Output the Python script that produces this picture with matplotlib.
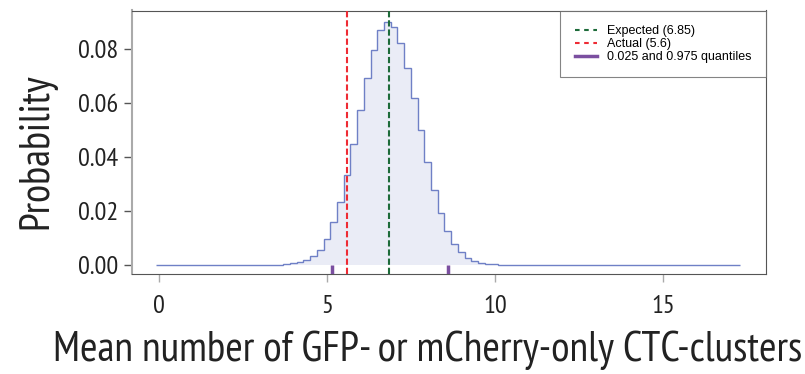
import numpy as np
import matplotlib
matplotlib.use("Agg")
import matplotlib.pyplot as plt
from matplotlib.lines import Line2D

# histogram of simulated means (bin centres, probability)
bin_centres = [3.4, 3.6, 3.8, 4.0, 4.2, 4.4, 4.6, 4.8, 5.0, 5.2, 5.4, 5.6, 5.8,
               6.0, 6.2, 6.4, 6.6, 6.8, 7.0, 7.2, 7.4, 7.6, 7.8, 8.0, 8.2,
               8.4, 8.6, 8.8, 9.0, 9.2, 9.4, 9.6, 9.8, 10.0, 10.2, 10.4]
probs = [0.0001, 0.0002, 0.0003, 0.0006, 0.0012, 0.0020, 0.0032, 0.0057,
         0.0098, 0.0158, 0.0234, 0.0333, 0.0449, 0.0574, 0.0692, 0.0795,
         0.0869, 0.0899, 0.0883, 0.0824, 0.0731, 0.0619, 0.0499, 0.0380,
         0.0278, 0.0194, 0.0128, 0.0078, 0.0048, 0.0027, 0.0015, 0.0007,
         0.0005, 0.0003, 0.0002, 0.0002]
bin_width = 0.2
range_min, range_max = 0.0, 17.2   # first / last simulated value

expected = 6.85
actual = 5.6
quantiles = [5.15, 8.6]

# full grid of bins (zeros where nothing was drawn)
n_bins = int(round((range_max - range_min) / bin_width)) + 1
edges = range_min - bin_width / 2 + bin_width * np.arange(n_bins + 1)
values = np.zeros(n_bins)
for c, p in zip(bin_centres, probs):
    values[int(round((c - range_min) / bin_width))] = p

cond = ["PT Sans Narrow", "Fira Sans Condensed", "Roboto Condensed", "DejaVu Sans"]
green, red, purple = "#1d6b3a", "#ee2b34", "#7b4fa0"

fig = plt.figure(figsize=(8.05, 3.74), dpi=100)
ax = fig.add_axes([132 / 805, 1 - 274 / 374, (766 - 132) / 805, (274 - 10.5) / 374])

ax.stairs(values, edges, fill=True, color="#eaecf6", zorder=1)
ax.stairs(values, edges, color="#6f80c6", lw=1.0, zorder=2)

ax.axvline(expected, color=green, ls=(0, (3, 1.4)), lw=1.5, zorder=3)
ax.axvline(actual, color=red, ls=(0, (3, 1.4)), lw=1.5, zorder=3)
for q in quantiles:
    ax.plot([q, q], [0, -0.0034], color=purple, lw=2.5, solid_capstyle="butt", zorder=3)

ax.set_xlim(-0.8, 18.07)
ax.set_ylim(-0.0033, 0.0943)
ax.set_xticks([0, 5, 10, 15])
ax.set_yticks([0, 0.02, 0.04, 0.06, 0.08])
ax.set_yticklabels(["0.00", "0.02", "0.04", "0.06", "0.08"])

for lbl in ax.get_xticklabels() + ax.get_yticklabels():
    lbl.set_family(cond)
    lbl.set_fontsize(19)
    lbl.set_color("#222222")
ax.tick_params(axis="x", direction="out", length=6, width=1, color="#aaaaaa", pad=9)
ax.tick_params(axis="y", direction="out", length=6, width=1, color="#555555", pad=4)

for s in ["top", "right", "bottom"]:
    ax.spines[s].set_color("#555555")
ax.spines["left"].set_color("#aaaaaa")
ax.spines["left"].set_linewidth(1.5)

ax.set_xlabel("Mean number of GFP- or mCherry-only CTC-clusters", family=cond,
              fontsize=30.5, color="#222222")
ax.xaxis.set_label_coords(0.467, -0.215)
ax.set_ylabel("Probability", family=cond, fontsize=30, color="#222222")
ax.yaxis.set_label_coords(-0.12, 0.465)

handles = [
    Line2D([], [], color=green, ls=(0, (2.2, 2.2)), lw=1.5),
    Line2D([], [], color=red, ls=(0, (2.2, 2.2)), lw=1.5),
    Line2D([], [], color=purple, lw=2.5),
]
leg = ax.legend(handles, ["Expected (6.85)", "Actual (5.6)", "0.025 and 0.975 quantiles"],
                loc="upper right", bbox_to_anchor=(1, 1), borderaxespad=0,
                prop={"family": ["Liberation Sans", "DejaVu Sans"], "size": 9}, fancybox=False,
                handlelength=1.8, handletextpad=0.8, labelspacing=0.08, borderpad=1.15)
leg.get_frame().set_edgecolor("#666666")
leg.get_frame().set_linewidth(0.8)

fig.savefig("out.png", dpi=100)
